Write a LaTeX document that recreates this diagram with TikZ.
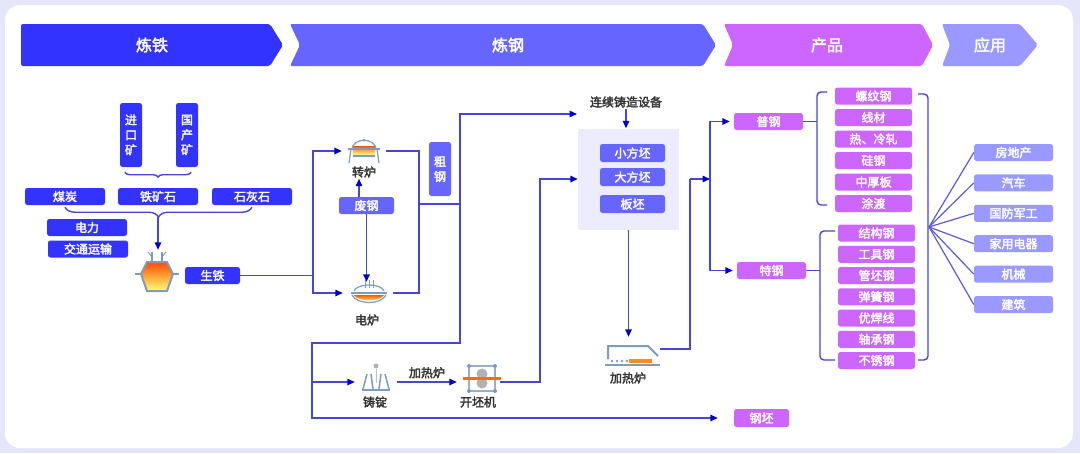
\documentclass[tikz,border=0pt]{standalone}
\usepackage{fontspec}
\setmainfont{Noto Sans CJK SC}[AutoFakeBold=2.5]
\usepackage{tikz}
\usetikzlibrary{positioning, arrows.meta, decorations.pathreplacing}

\definecolor{iron}{HTML}{3333FF}
\definecolor{steel}{HTML}{6666FF}
\definecolor{prod}{HTML}{CC66FF}
\definecolor{app}{HTML}{9999FF}
\definecolor{bgc}{HTML}{E6E6FA}
\definecolor{casting}{HTML}{ECECFC}
\definecolor{linec}{HTML}{4545E0}
\definecolor{arrc}{HTML}{0000CC}
\definecolor{fanc}{HTML}{5B5BD6}
\definecolor{iconc}{HTML}{7C9CC0}
\definecolor{labc}{HTML}{333333}

\begin{document}
\begin{tikzpicture}[x=1pt, y=-1pt,
    box/.style={rounded corners=2.5pt, text=white, inner sep=0pt, minimum height=17pt,
        font=\fontsize{12}{14}\selectfont\bfseries},
    ironbox/.style={box, fill=iron, minimum width=80pt},
    vbox/.style={box, align=center, minimum width=22pt, font=\fontsize{12}{15}\selectfont\bfseries},
    steelbox/.style={box, fill=steel, minimum width=55pt},
    prodbox/.style={box, fill=prod, minimum width=77pt},
    appbox/.style={box, fill=app, minimum width=79pt},
    head/.style={text=white, font=\fontsize{16}{18}\selectfont\bfseries},
    lab/.style={text=labc, inner sep=1pt, font=\fontsize{12}{14}\selectfont\bfseries},
    icon/.style={inner sep=0pt},
    line/.style={draw=linec, line width=1.4pt},
    arr/.style={line, -{Triangle[length=7.5pt, width=6.5pt, color=arrc]}},
    fan/.style={draw=fanc, line width=1.2pt},
    brace/.style={line, decorate, decoration={brace, mirror, amplitude=#1}}]

    \useasboundingbox (0,0) rectangle (1080,453);
    \fill[bgc] (0,0) rectangle (1080,453);
    \fill[white, rounded corners=15pt] (5,5) rectangle (1073,448);

    % header
    \fill[iron, rounded corners=2pt] (21,24) -- (270,24) -- (283,45) -- (270,66) -- (21,66) -- cycle;
    \fill[steel, rounded corners=2pt] (290,24) -- (703,24) -- (716,45) -- (703,66) -- (290,66) -- (300,45) -- cycle;
    \fill[prod, rounded corners=2pt] (724,24) -- (922,24) -- (933,45) -- (922,66) -- (724,66) -- (733,45) -- cycle;
    \fill[app, rounded corners=2pt] (942,24) -- (1020,24) -- (1038,45) -- (1020,66) -- (942,66) -- (950,45) -- cycle;
    \node[head] (h1) at (152,45) {炼铁};
    \node[head] (h2) at (508,45) {炼钢};
    \node[head] (h3) at (827,45) {产品};
    \node[head] (h4) at (990,45) {应用};

    % ironmaking
    \node[vbox, fill=iron, minimum height=64pt] (jkk) at (131,135) {进\\口\\矿};
    \node[vbox, fill=iron, minimum height=64pt] (gck) at (187,135) {国\\产\\矿};
    \node[ironbox] (tks) at (158,196.5) {铁矿石};
    \node[ironbox] (mt) at (65,196.5) {煤炭};
    \node[ironbox] (hs) at (252,196.5) {石灰石};
    \node[ironbox] (dl) at (87,227.5) {电力};
    \node[ironbox] (jt) at (88,249) {交通运输};
    \node[icon, minimum width=44pt, minimum height=44pt] (gl) at (157,272) {};
    \node[box, fill=iron, minimum width=55pt] (st) at (212.5,275.5) {生铁};

    \draw[brace=5pt] ([xshift=5pt, yshift=-5pt]jkk.south west) -- ([xshift=-7pt, yshift=-5pt]gck.south east);
    \draw[brace=10pt] ([yshift=-2pt]mt.south) -- ([yshift=-2pt]hs.south);
    \draw[arr] ([yshift=-12pt]tks.south) -- (gl.north -| tks.south);

    \begin{scope}[shift={(157,272)}]
        \draw[iconc, line width=1.5pt] (-5,-20) -- (-5,-11) (5,-20) -- (5,-11);
        \draw[iconc, line width=1pt] (-9,-20) -- (-5,-15) (9,-20) -- (5,-15);
        \shade[top color=orange!60!red, bottom color=yellow!55, draw=iconc, line width=2pt]
            (-10,-10) -- (10,-10) -- (16,2) -- (10,19) -- (-10,19) -- (-16,2) -- cycle;
        \draw[iconc, line width=1.5pt] (-22,2) -- (-16,2) (16,2) -- (22,2);
    \end{scope}

    % steelmaking
    \node[icon, minimum width=44pt, minimum height=26pt] (zl) at (364,151) {};
    \node[lab] (zlt) at (364,172) {转炉};
    \node[icon, minimum width=50pt, minimum height=22pt] (dlu) at (368,293) {};
    \node[lab] (dlt) at (367,320) {电炉};
    \node[steelbox] (fg) at (366.5,205.5) {废钢};
    \node[vbox, fill=steel, minimum height=54pt] (cg) at (440,169) {粗\\钢};

    \begin{scope}[shift={(364,151)}]
        \draw[iconc, line width=1.2pt] (-12,-1) .. controls (-12,-14) and (12,-14) .. (12,-1);
        \fill[iconc] (0,-11) circle (1.5);
        \shade[top color=orange!70!red, bottom color=yellow!40] (-11,-5) rectangle (11,4);
        \draw[iconc, line width=1.2pt] (-16,-2) -- (16,-2);
        \draw[iconc, line width=1.2pt] (-13,-2) -- (-15,12) (13,-2) -- (15,12);
        \draw[iconc, line width=1.2pt] (-11,5) -- (11,5);
    \end{scope}
    \begin{scope}[shift={(369,293)}]
        \draw[iconc, line width=1pt] (-4,-13) -- (-4,-5) (0,-13) -- (0,-5) (4,-13) -- (4,-5);
        \draw[iconc, line width=1.2pt] (-15,-2) .. controls (-12,-10) and (12,-10) .. (15,-2);
        \draw[iconc, line width=1.5pt] (-18,0) -- (18,0);
        \shade[top color=orange!70!red, bottom color=yellow!50] (-15,2) .. controls (-12,9) and (12,9) .. (15,2) -- cycle;
        \draw[iconc, line width=1.2pt] (-17,2) .. controls (-12,12) and (12,12) .. (17,2);
    \end{scope}

    \coordinate (j1) at (313,275.5);
    \coordinate (j2) at (419,204);
    \coordinate (j3) at (460,204);
    \coordinate (j4) at (460,343);
    \coordinate (j7) at (312,382);
    \coordinate (t1) at (577,114);

    \draw[line] (st.east) -- (j1);
    \draw[arr] (j1) |- (zl.west);
    \draw[arr] (j1) |- (dlu.west);
    \draw[arr] ([xshift=-7.5pt]fg.north) -- ([xshift=-7.5pt]fg.north |- zlt.south);
    \draw[arr] (fg.south) -- (fg.south |- dlu.north);
    \draw[line] (zl.east) -| (j2) |- (dlu.east);
    \draw[line] (j2) -- (j3);
    \draw[arr] (j3) |- (t1);
    \draw[line] (j3) -- (j4) -| (j7);

    % continuous casting
    \node[lab] (ccs) at (626,102) {连续铸造设备};
    \node[fill=casting, minimum width=101pt, minimum height=101pt, inner sep=0pt] (lz) at (628.5,179) {};
    \node[steelbox, minimum width=65pt, minimum height=18pt] (xfp) at (632.5,153) {小方坯};
    \node[steelbox, minimum width=65pt, minimum height=18pt] (dfp) at (632.5,177) {大方坯};
    \node[steelbox, minimum width=65pt, minimum height=18pt] (bp) at (632.5,204) {板坯};
    \draw[arr] (ccs.south) -- (ccs.south |- lz.north);

    % ingot route
    \node[icon, minimum width=42pt, minimum height=30pt] (zd) at (376,382) {};
    \node[lab] (zdt) at (375,402) {铸锭};
    \node[icon, minimum width=43pt, minimum height=30pt] (kpj) at (478.5,382) {};
    \node[lab] (kpjt) at (478,402) {开坯机};
    \coordinate (j9) at (540,179);

    \begin{scope}[shift={(376,377)}]
        \fill[gray!60] (0,-11) circle (2.5);
        \draw[gray!50, line width=1pt] (0,-8) -- (0,6);
        \draw[iconc, line width=1.5pt] (-14,13) -- (14,13);
        \draw[iconc, line width=1.5pt] (-13,12) -- (-9,-3) (-3,12) -- (-5,-3) (3,12) -- (5,-3) (13,12) -- (9,-3);
    \end{scope}
    \begin{scope}[shift={(482,378)}]
        \draw[iconc!80, line width=1.5pt] (-13,-12) rectangle (13,13);
        \foreach \cx/\cy in {-13/-12, 13/-12, -13/13, 13/13}
            \fill[iconc] (\cx,\cy) circle (2);
        \fill[gray!60] (0,-4) circle (5.5);
        \fill[gray!60] (0,5) circle (5.5);
        \fill[orange!85!red] (-19,-1) rectangle (19,2);
    \end{scope}

    \draw[arr] (j7) -- (zd.west);
    \draw[arr] (zd.east) -- (kpj.west) node[lab, midway, above=2pt] (jrl2) {加热炉};
    \draw[arr] (kpj.east) -| (j9) -- (lz.west);

    % reheating furnace
    \node[icon, minimum width=56pt, minimum height=36pt] (jrl) at (632,355) {};
    \node[lab] (jrlt) at (628,378) {加热炉};
    \begin{scope}[shift={(632,355)}]
        \draw[iconc, line width=2pt] (-24,4) -- (-24,-9) -- (16,-9) -- (26,1);
        \draw[iconc, line width=2pt] (-27,10) -- (28,10);
        \foreach \dx in {-20,-15,-10,-5}
            \fill[iconc] (\dx,6) circle (1.4);
        \fill[orange!90] (-3,4) rectangle (20,8);
    \end{scope}
    \draw[arr] (lz.south) -- (lz.south |- jrl.north);

    % products
    \node[box, fill=prod, minimum width=69pt] (pg) at (768.5,121.5) {普钢};
    \node[box, fill=prod, minimum width=69pt] (tg) at (771.5,270.5) {特钢};
    \node[box, fill=prod, minimum width=55pt, minimum height=18pt] (gp) at (761.5,418) {钢坯};
    \foreach \t [count=\i] in {螺纹钢, 线材, 热、冷轧, 硅钢, 中厚板, 涂渡}
        \node[prodbox] (pgi\i) at (873.5,{96+21.5*(\i-1)}) {\t};
    \foreach \t [count=\i] in {结构钢, 工具钢, 管坯钢, 弹簧钢, 优焊线, 轴承钢, 不锈钢}
        \node[prodbox] (tgi\i) at (876.5,{233+21.25*(\i-1)}) {\t};

    \coordinate (j5) at (690,179);
    \coordinate (j6) at (710,179);
    \draw[line] ([yshift=6pt]jrl.east) -| (j5);
    \draw[arr] (j5) -- (j6);
    \draw[arr, shorten >=4pt] (j6) |- (pg.west);
    \draw[arr, shorten >=4pt] (j6) |- (tg.west);
    \draw[arr, shorten >=16pt] (j7) |- (gp.west);

    \draw[line] (pg.east) -- ++(14,0);
    \draw[line, rounded corners=4pt] (827,92) -- (817,92) -- (817,205) -- (827,205);
    \draw[line] (tg.east) -- ++(14,0);
    \draw[line, rounded corners=4pt] (835,231) -- (820,231) -- (820,360) -- (835,360);
    \draw[line, rounded corners=4pt] (918,94) -- (928,94) -- (928,360) -- (918,360);

    % applications
    \coordinate (fo) at (929,227);
    \foreach \t [count=\i] in {房地产, 汽车, 国防军工, 家用电器, 机械, 建筑} {
        \node[appbox] (app\i) at (1013.5,{152.5+30.4*(\i-1)}) {\t};
        \draw[fan] (fo) -- (app\i.west);
    }
\end{tikzpicture}
\end{document}
